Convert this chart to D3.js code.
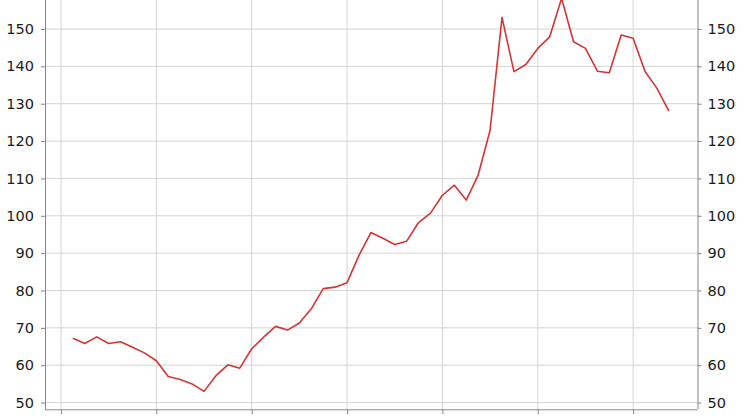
<!DOCTYPE html>
<meta charset="utf-8">
<script src="https://d3js.org/d3.v7.min.js"></script>
<style>
  body { margin: 0; background: #fff; }
  svg { display: block; }
  .axis text { font-family: "DejaVu Sans", sans-serif; font-size: 14.5px; fill: #1a1a1a; }
  .axis path, .axis line { stroke: #888; }
</style>
<div id="chart"></div>
<script>
// period index of each point (8 periods between vertical gridlines)
var periods = d3.range(1, 52);
// series values
var values = [
  67.2, 65.8, 67.6, 65.8, 66.3, 64.8, 63.3, 61.2,
  57.0, 56.2, 55.0, 53.0, 57.2, 60.1, 59.2, 64.4,
  67.5, 70.4, 69.4, 71.3, 75.1, 80.5, 80.9, 82.1,
  89.4, 95.5, 94.0, 92.3, 93.2, 98.2, 100.7, 105.5,
  108.2, 104.2, 110.9, 122.9, 153.1, 138.6, 140.5, 144.8,
  147.9, 158.2, 146.6, 144.8, 138.7, 138.3, 148.4, 147.5,
  138.6, 134.1, 128.0
];
var yTicks = [50, 60, 70, 80, 90, 100, 110, 120, 130, 140, 150];
var xTicks = [0, 8, 16, 24, 32, 40, 48];

var width = 750, height = 420;
var margin = {top: 0, right: 52.5, bottom: 10.7, left: 45};
var w = width - margin.left - margin.right,
    h = height - margin.top - margin.bottom;

var svg = d3.select("#chart").append("svg")
    .attr("width", width)
    .attr("height", height);

var g = svg.append("g")
    .attr("transform", "translate(" + margin.left + "," + margin.top + ")");

var x = d3.scaleLinear().domain([-1.34, 53.4]).range([0, w]);
var y = d3.scaleLinear().domain([48.2, 157.76]).range([h, 0]);

// gridlines
g.append("g").selectAll("line")
  .data(yTicks).enter().append("line")
    .attr("x1", 0).attr("x2", w)
    .attr("y1", function(d) { return y(d); })
    .attr("y2", function(d) { return y(d); })
    .attr("stroke", "#d4d4d4");
g.append("g").selectAll("line")
  .data(xTicks).enter().append("line")
    .attr("y1", 0).attr("y2", h)
    .attr("x1", function(d) { return x(d); })
    .attr("x2", function(d) { return x(d); })
    .attr("stroke", "#d4d4d4");

// axes
g.append("g").attr("class", "axis")
  .call(d3.axisLeft(y).tickValues(yTicks).tickSize(4).tickPadding(7).tickSizeOuter(0))
  .call(function(a) { a.select(".domain").attr("d", "M0.5,0V" + h); });

g.append("g").attr("class", "axis")
  .attr("transform", "translate(" + w + ",0)")
  .call(d3.axisRight(y).tickValues(yTicks).tickSize(4).tickPadding(6).tickSizeOuter(0))
  .call(function(a) { a.select(".domain").attr("d", "M0.5,0V" + h); });

g.append("g").attr("class", "axis")
  .attr("transform", "translate(0," + h + ")")
  .call(d3.axisBottom(x).tickValues(xTicks).tickSize(5).tickFormat("").tickSizeOuter(0))
  .call(function(a) { a.select(".domain").attr("d", "M0,0.5H" + w); });

// line
var line = d3.line()
  .x(function(d, i) { return x(periods[i]); })
  .y(function(d) { return y(d); });

g.append("path")
  .datum(values)
  .attr("fill", "none")
  .attr("stroke", "#d63434")
  .attr("stroke-width", 1.6)
  .attr("stroke-linejoin", "round")
  .attr("d", line);
</script>
